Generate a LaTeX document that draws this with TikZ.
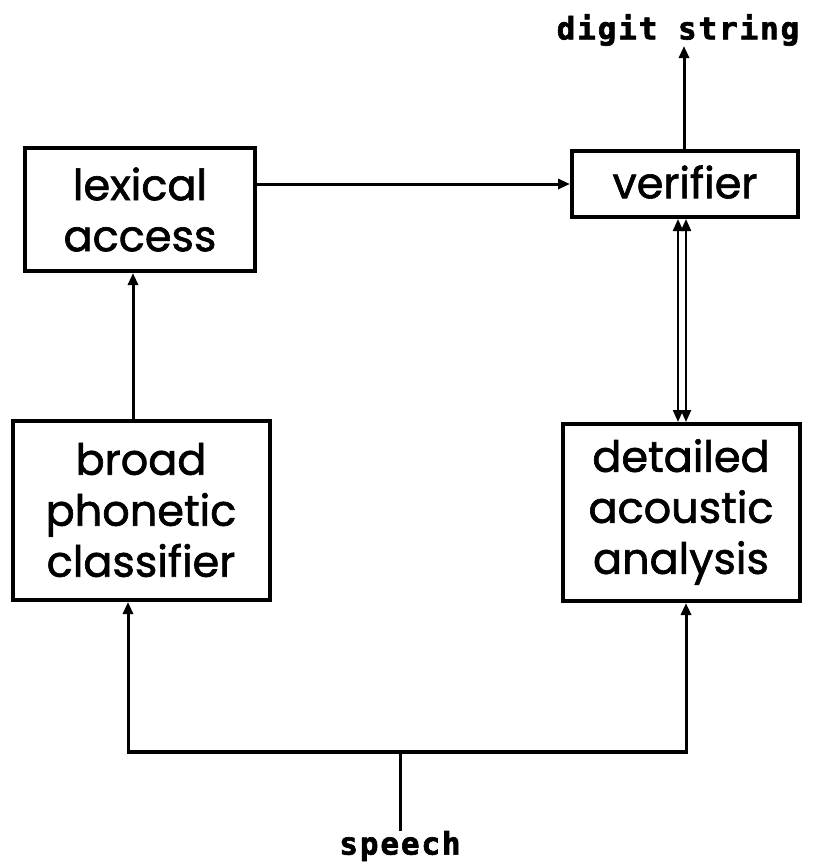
\documentclass[tikz,border=0pt]{standalone}
\usepackage{fontspec}
\setmainfont{Poppins}
\newfontfamily\boxfont[FakeBold=1.5]{Poppins}
\newfontfamily\lblfont[LetterSpace=6,FakeBold=2]{DejaVu Sans Mono Bold}
\usetikzlibrary{arrows.meta}
\begin{document}
\begin{tikzpicture}[x=1pt,y=-1pt,
  blk/.style={draw,line width=4pt,inner sep=0pt},
  txt/.style={align=center,font=\boxfont\fontsize{43}{51}\selectfont},
  conn/.style={line width=3pt,-{Triangle[length=12pt,width=10pt]}},
  plain/.style={line width=3pt},
  lbl/.style={font=\lblfont\fontsize{31}{34}\selectfont,inner sep=0pt}]
\useasboundingbox (0,0) rectangle (818,865);
% boxes
\draw[blk] (25,148) rectangle (255,271);
\node[txt] (lex) at (140,209.5) {lexical\\access};
\coordinate (lexB) at (133,273);
\coordinate (lexR) at (257,184);
\draw[blk] (572,151) rectangle (798,217);
\node[txt] (ver) at (685,182) {verifier};
\coordinate (verL) at (570,184);
\coordinate (verT) at (684,149);
\coordinate (verBl) at (678,219);
\coordinate (verBr) at (686,219);
\draw[blk] (13,421) rectangle (270,600);
\node[txt] (bpc) at (141,510) {broad\\phonetic\\classifier};
\coordinate (bpcT) at (133,419);
\coordinate (bpcB) at (128,602);
\draw[blk] (563,424) rectangle (800,601);
\node[txt] (daa) at (681,512) {detailed\\acoustic\\analysis};
\coordinate (daaTl) at (678,422);
\coordinate (daaTr) at (686,422);
\coordinate (daaB) at (686,603);
% labels
\node[lbl] (dig) at (678,30) {digit string};
\node[lbl] (sp) at (400,846) {speech};
\coordinate (dstop) at (684,46);
\coordinate (jl) at (128,752);
\coordinate (jr) at (686,752);
\coordinate (jm) at (400,752);
\coordinate (spT) at (400,831);
% connectors
\draw[conn] (lexR) -- (verL);
\draw[conn] (verT) -- (dstop);
\draw[conn] (bpcT) -- (lexB);
\draw[line width=2.2pt,{Triangle[length=12pt,width=10pt]}-{Triangle[length=12pt,width=10pt]}] (verBl) -- (daaTl);
\draw[line width=2.2pt,{Triangle[length=12pt,width=10pt]}-{Triangle[length=12pt,width=10pt]}] (verBr) -- (daaTr);
\draw[conn] (jm) -- (jl) -- (bpcB);
\draw[conn] (jm) -- (jr) -- (daaB);
\draw[plain] (spT) -- (jm);
\draw[line width=4.5pt] (jl) -- (jr);
\end{tikzpicture}
\end{document}
